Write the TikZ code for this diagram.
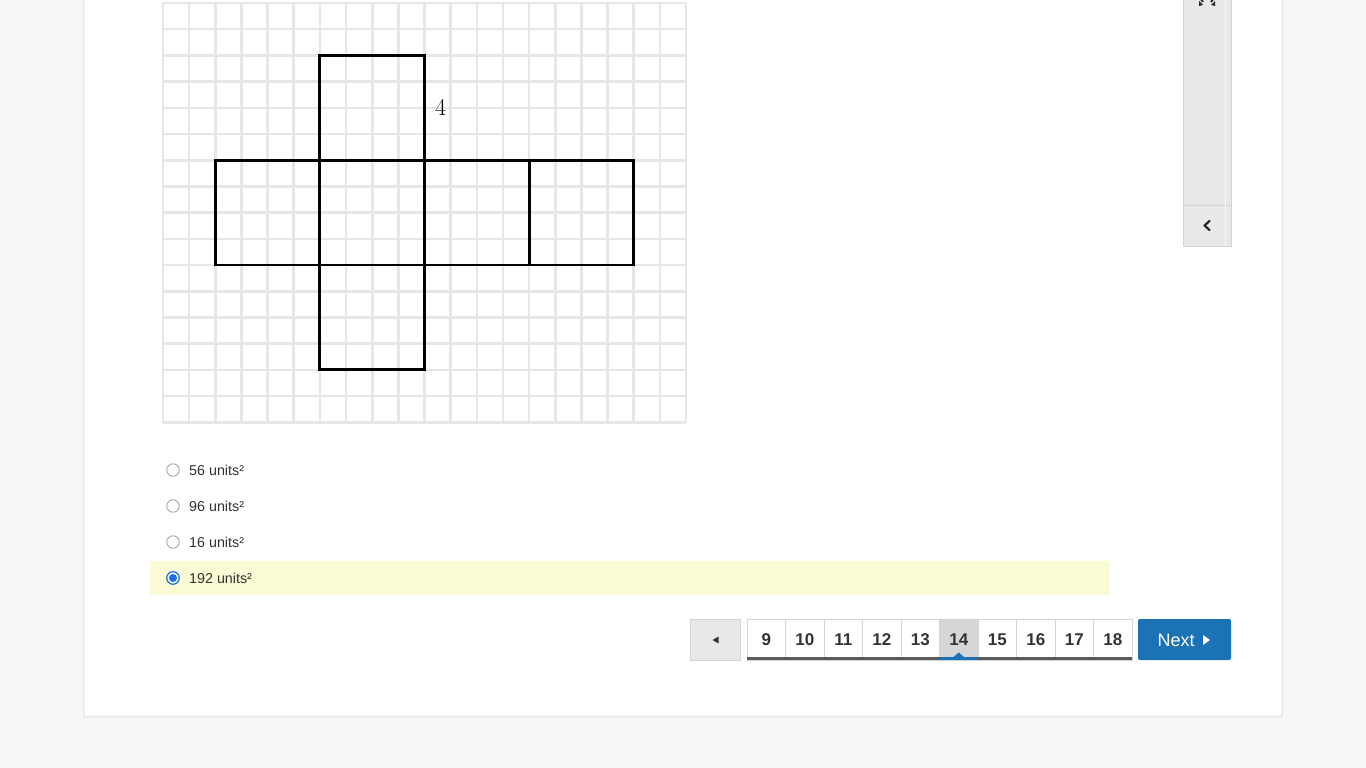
\documentclass[tikz,border=0pt]{standalone}
\usepackage{fontspec}
\newfontfamily\uisans{Liberation Sans}
\definecolor{pagebg}{HTML}{F7F6F4}
\definecolor{gridgray}{HTML}{E6E6E6}
\definecolor{panelgray}{HTML}{E8E8E8}
\definecolor{panelline}{HTML}{D4D4D4}
\definecolor{hiyellow}{HTML}{FAFAD4}
\definecolor{radioblue}{HTML}{1A6FE6}
\definecolor{nextblue}{HTML}{1B72B5}
\definecolor{txt}{HTML}{333333}
\definecolor{selgray}{HTML}{D6D6D6}
\definecolor{barbar}{HTML}{5A5A5A}
\tikzset{
  gridline/.style={draw=gridgray, line width=2.6pt},
  netline/.style={draw=black, line width=2.9pt, line cap=rect},
  optlabel/.style={anchor=west, inner sep=0pt, font=\uisans\fontsize{14.3}{16}\selectfont, text=txt},
  radio/.style={circle, draw=gray!70, line width=0.9pt, fill=white, minimum size=12.5pt, inner sep=0pt},
  pagebtn/.style={draw=panelline, line width=0.8pt, fill=white, minimum width=38.5pt, minimum height=41pt, inner sep=0pt, font=\uisans\bfseries\fontsize{17}{20}\selectfont, text=txt},
}
\begin{document}
\begin{tikzpicture}[x=1pt,y=-1pt]
\useasboundingbox (0,0) rectangle (1366,768);
\fill[pagebg] (0,0) rectangle (1366,768);
% card
\fill[black!8] (83,-5) rectangle (1283,718);
\filldraw[fill=white, draw=black!10, line width=0.8pt, rounded corners=2pt] (84,-8) rectangle (1282,716);
% grid
\begin{scope}[shift={(163,3)}, x=26.15pt, y=-26.2pt]
  \foreach \i in {0,...,20} \draw[gridline] (\i,0) -- (\i,16);
  \foreach \j in {0,...,16} \draw[gridline] (0,\j) -- (20,\j);
  % net
  \draw[netline] (2,6) rectangle (18,10);
  \draw[netline] (6,2) rectangle (10,6);
  \draw[netline] (6,10) rectangle (10,14);
  \draw[netline] (6,6) -- (6,10);
  \draw[netline] (10,6) -- (10,10);
  \draw[netline] (14,6) -- (14,10);
  \node[inner sep=0pt, font=\fontsize{24}{28}\selectfont] (lab4) at (10.62,3.98) {4};
\end{scope}
% side panel
\filldraw[fill=panelgray, draw=panelline, line width=0.8pt] (1183,-5) rectangle (1231,246);
\draw[panelline, line width=0.8pt] (1183,205) -- (1231,205);
\draw[white!96!black, line width=0.6pt] (1225,-5) -- (1225,246);
\node[inner sep=0pt] (chev) at (1207,225) {};
\draw[black!85, line width=2.2pt, line cap=round, line join=round] (1209.5,221) -- (1204.5,225.5) -- (1209.5,230);
\node[inner sep=0pt] (expand) at (1207,1) {};
\fill[black!85] (1199,1) -- (1203,5) -- (1199,6) -- cycle;
\fill[black!85] (1215,1) -- (1211,5) -- (1215,6) -- cycle;
\draw[black!85, line width=1.8pt] (1200,-2) -- (1203,2);
\draw[black!85, line width=1.8pt] (1214,-2) -- (1211,2);
% options
\fill[hiyellow] (150,561) rectangle (1110,595);
\node[radio] (r1) at (173,470) {};
\node[optlabel] (t1) at (189,470) {56 units²};
\node[radio] (r2) at (173,506) {};
\node[optlabel] (t2) at (189,506) {96 units²};
\node[radio] (r3) at (173,542) {};
\node[optlabel] (t3) at (189,542) {16 units²};
\node[radio, draw=radioblue, line width=1.2pt] (r4) at (173,578) {};
\fill[radioblue] (r4.center) circle (4pt);
\node[optlabel] (t4) at (189,578) {192 units²};
% pagination
\node[pagebtn, fill=panelgray, minimum width=50pt] (prev) at (715,639.5) {};
\fill[black!80] (712.5,640) -- (718.5,636.5) -- (718.5,643.5) -- cycle;
\foreach \n [count=\k from 0] in {9,10,11,12,13,14,15,16,17,18} {
  \node[pagebtn] (p\n) at ({766.25+38.5*\k},639.5) {\n};
}
\node[pagebtn, fill=selgray] (p14s) at (p14) {14};
\draw[barbar, line width=3pt] (747,658.5) -- (1132,658.5);
\draw[nextblue, line width=3pt] (939.5,658.5) -- (978,658.5);
\fill[nextblue] (953,657.5) -- (958.75,652.5) -- (964.5,657.5) -- cycle;
\node[fill=nextblue, rounded corners=2pt, minimum width=93pt, minimum height=41pt, inner sep=0pt] (next) at (1184.5,639.5) {};
\node[inner sep=0pt, anchor=west, text=white, font=\uisans\fontsize{18}{21}\selectfont] (nexttxt) at (1157.5,640) {Next};
\fill[white] (1203,635) -- (1210,640) -- (1203,645) -- cycle;
\end{tikzpicture}
\end{document}
